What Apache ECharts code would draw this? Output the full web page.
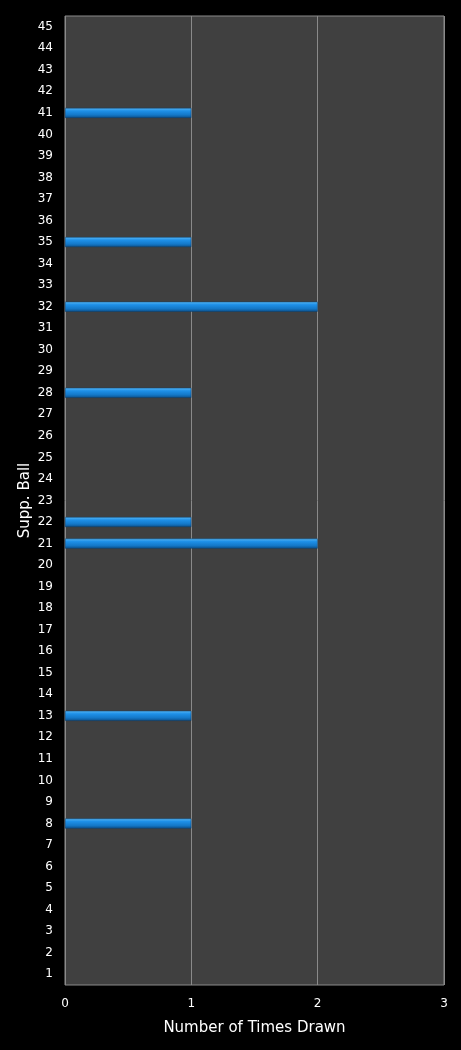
<!DOCTYPE html>
<html><head><meta charset="utf-8">
<script src="https://cdn.jsdelivr.net/npm/echarts@6/dist/echarts.min.js"></script>
<style>html,body{margin:0;padding:0;background:#000;}#c{width:461px;height:1050px;}</style>
</head><body><div id="c"></div>
<script>
const categories = Array.from({length:45},(_,i)=>String(i+1));
const drawnBalls = ['8','13','21','22','28','32','35','41'];
const drawnCounts = [1,1,2,1,1,2,1,1];
const xTicks = [0,1,2,3];

const values = categories.map(c => {
  const k = drawnBalls.indexOf(c);
  return k >= 0 ? drawnCounts[k] : null;
});

const chart = echarts.init(document.getElementById('c'));
chart.setOption({
  backgroundColor:'#000',
  animation:false,
  grid:{left:65,right:17,top:16,bottom:65,show:true,backgroundColor:'#404040',borderColor:'#8a8a8a',borderWidth:1},
  xAxis:{type:'value',min:0,max:3,interval:1,
    name:'Number of Times Drawn',nameLocation:'middle',nameGap:36,nameMoveOverlap:false,
    nameTextStyle:{color:'#fff',fontSize:15,fontFamily:'DejaVu Sans'},
    axisLine:{show:false},axisTick:{show:false},
    axisLabel:{color:'#fff',fontSize:12,fontFamily:'DejaVu Sans',margin:13},
    splitLine:{show:true,lineStyle:{color:'#8a8a8a',width:1}}},
  yAxis:{type:'category',data:categories,
    name:'Supp. Ball',nameLocation:'middle',nameGap:32,nameMoveOverlap:false,
    nameTextStyle:{color:'#fff',fontSize:15,fontFamily:'DejaVu Sans'},
    axisLine:{show:false},axisTick:{show:false},
    axisLabel:{color:'#fff',fontSize:12,fontFamily:'DejaVu Sans',margin:12,interval:0},
    splitLine:{show:false}},
  series:[{type:'bar',data:values,barWidth:10,
    itemStyle:{
      color:new echarts.graphic.LinearGradient(0,0,0,1,[
        {offset:0,color:'#5ab8f5'},{offset:0.3,color:'#1e90e8'},{offset:0.7,color:'#1478c8'},{offset:1,color:'#0c4f8a'}]),
      borderColor:'#0a4070',borderWidth:0.5
    }}]
});
</script></body></html>
